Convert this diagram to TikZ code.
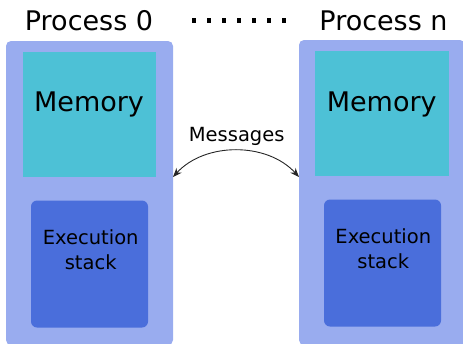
\documentclass[tikz,border=0pt]{standalone}
\usepackage{fontspec}
\setmainfont{DejaVu Sans}
\usetikzlibrary{arrows.meta}
\definecolor{outerc}{HTML}{99ACEF}
\definecolor{memc}{HTML}{4DC1D6}
\definecolor{execc}{HTML}{4A6EDB}
\tikzset{
  procbox/.style={fill=outerc, draw=none, rounded corners=5pt, minimum width=#1, inner sep=0pt},
  membox/.style={fill=memc, draw=none, inner sep=0pt},
  execbox/.style={fill=execc, draw=none, rounded corners=6pt, inner sep=0pt},
  title/.style={font=\fontsize{27}{32}\selectfont, anchor=base, inner sep=0pt},
  memtext/.style={font=\fontsize{27}{32}\selectfont, anchor=base, inner sep=0pt},
  smalltext/.style={font=\fontsize{19.5}{25}\selectfont, anchor=base, inner sep=0pt, align=center},
  msgarrow/.style={line width=0.9pt, draw=black!85, {Stealth[length=9pt,width=7pt]}-{Stealth[length=9pt,width=7pt]}},
  dotsq/.style={fill=black, draw=none, minimum width=4pt, minimum height=5pt, inner sep=0pt}
}
\begin{document}
\begin{tikzpicture}[x=1pt,y=-1pt]
\useasboundingbox (0,0) rectangle (463,343);
% process boxes
\node[procbox=167pt, minimum height=304pt] (pL) at (89.5,193) {};
\node[procbox=166pt, minimum height=305pt] (pR) at (382,192.5) {};
% memory
\node[membox, minimum width=133pt, minimum height=125pt] (mL) at (89.5,114.5) {};
\node[membox, minimum width=134pt, minimum height=125pt] (mR) at (382,113.5) {};
% execution stack
\node[execbox, minimum width=117pt, minimum height=127pt] (eL) at (89.5,264) {};
\node[execbox, minimum width=117pt, minimum height=127pt] (eR) at (382.5,263) {};
% texts
\node[title] (tL) at (89,30) {Process 0};
\node[title] (tR) at (383.5,30) {Process n};
\node[memtext] (mtL) at (89,111) {Memory};
\node[memtext] (mtR) at (381.7,111) {Memory};
\node[smalltext] (etL) at (90.7,269) {Execution\\stack};
\node[smalltext] (etR) at (383.3,268.3) {Execution\\stack};
\node[smalltext] (msg) at (236.7,141.7) {Messages};
% dots
\foreach \i in {0,...,6} {
  \node[dotsq] (d\i) at (194+15.05*\i,20.7) {};
}
% arrow
\coordinate (aL) at (173,177);
\coordinate (aR) at (299,177);
\draw[msgarrow] (aL) .. controls (205,142) and (267,142) .. (aR);
\end{tikzpicture}
\end{document}
